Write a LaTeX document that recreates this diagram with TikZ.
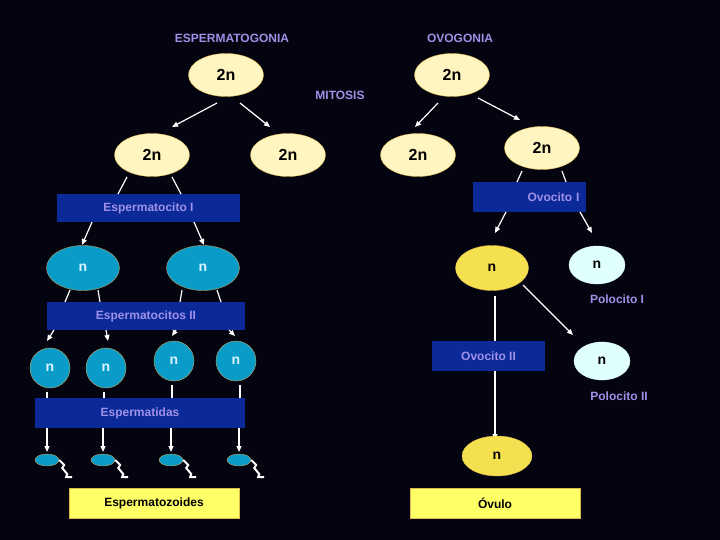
\documentclass[tikz,border=0pt]{standalone}
\usepackage{fontspec}
\setmainfont{Liberation Sans}
\usetikzlibrary{shapes.geometric,arrows.meta}
\definecolor{bg}{HTML}{03040F}
\definecolor{lav}{HTML}{A090E8}
\definecolor{cream}{HTML}{FFF5C0}
\definecolor{gold}{HTML}{E0B850}
\definecolor{cyanf}{HTML}{0A9CC8}
\definecolor{cyant}{HTML}{D8F4FF}
\definecolor{boxb}{HTML}{0B2A98}
\definecolor{yel}{HTML}{FFFF66}
\definecolor{yelo}{HTML}{F5E050}
\definecolor{pale}{HTML}{E0FFFF}
\begin{document}
\begin{tikzpicture}[x=1pt,y=-1pt,font=\bfseries,
 lab/.style={text=lav,font=\fontsize{12}{14}\selectfont\bfseries},
 dip/.style={ellipse,draw=gold,fill=cream,minimum width=75,minimum height=43,inner sep=0,font=\fontsize{16}{18}\selectfont\bfseries,text=black},
 hap/.style={ellipse,draw=gold!70!gray,fill=cyanf,minimum width=73,minimum height=45,inner sep=0,font=\fontsize{14}{16}\selectfont\bfseries,text=cyant},
 hc/.style={hap,minimum width=40,minimum height=40},
 head/.style={ellipse,draw=gold!70!gray,fill=cyanf,minimum width=24,minimum height=12,inner sep=0},
 oy/.style={hap,fill=yelo,draw=gold,text=black},
 op/.style={hap,fill=pale,draw=pale,text=black,minimum width=56,minimum height=38},
 bx/.style={rectangle,fill=boxb,inner sep=0,text=lav,font=\fontsize{12}{14}\selectfont\bfseries},
 yb/.style={rectangle,fill=yel,draw=gold,inner sep=0,text=black,font=\fontsize{12}{14}\selectfont\bfseries},
 ar/.style={white,line width=1.2,-{Triangle[width=5,length=6]}},
 ln/.style={white,line width=1.2}]
\fill[bg] (0,0) rectangle (720,540);
\node[lab] (t1) at (232,38) {ESPERMATOGONIA};
\node[lab] (t2) at (460,38) {OVOGONIA};
\node[lab] (mi) at (340,95) {MITOSIS};
\node[dip] (e0) at (226,75) {2n};
\node[dip] (o0) at (452,75) {2n};
\node[dip] (e1) at (152,155) {2n};
\node[dip] (e2) at (288,155) {2n};
\node[dip] (o1) at (418,155) {2n};
\node[dip] (o2) at (542,148) {2n};
\coordinate (a1) at (217,103); \coordinate (a2) at (240,103);
\coordinate (a3) at (438,103); \coordinate (a4) at (478,98);
\draw[ar] (a1) -- (172,127); \draw[ar] (a2) -- (270,127);
\draw[ar] (a3) -- (415,127); \draw[ar] (a4) -- (520,120);
% sperm line
\node[bx,minimum width=183,minimum height=28] (b1) at (148.5,208) {Espermatocito I};
\draw[ln] (127,177) -- (118,194); \draw[ln] (172,177) -- (181,194);
\node[hap] (n1) at (83,268) {n};
\node[hap] (n2) at (203,268) {n};
\draw[ar] (92,222) -- (82,245); \draw[ar] (194,222) -- (204,245);
\node[bx,minimum width=198,minimum height=28] (b2) at (146,316) {Espermatocitos II};
\draw[ln] (70,290) -- (65,302); \draw[ln] (98,290) -- (100,302);
\draw[ln] (182,290) -- (180,302); \draw[ln] (217,290) -- (221,302);
\node[hc] (c1) at (50,368) {n};
\node[hc] (c2) at (106,368) {n};
\node[hc] (c3) at (174,361) {n};
\node[hc] (c4) at (236,361) {n};
\draw[ar] (54,330) -- (47,341); \draw[ar] (106,330) -- (108,341);
\draw[ar] (176,330) -- (172,336); \draw[ar] (229,330) -- (235,336);
\node[bx,minimum width=210,minimum height=30] (b3) at (140,413) {Espermatidas};
\foreach \x/\y in {47/388,104/388,172/381,240/381}{\draw[ln] (\x,\y+4) -- (\x,398);}
\foreach \x/\i in {47/1,103/2,171/3,239/4}{
  \node[head] (h\i) at (\x,460) {};
  \draw[ar] (\x,428) -- (\x,452);
  \draw[white,line width=2] (h\i.east) -- ++(5,5) -- ++(-2,3) -- ++(5,6) -- ++(-1,3) -- ++(6,0);
}
\node[yb,minimum width=170,minimum height=30] (b4) at (154,503) {Espermatozoides};
% ovo line
\node[bx,minimum width=113,minimum height=30,text width=100,align=right] (b5) at (529.5,197) {Ovocito I};
\draw[ln] (522,171) -- (517,182); \draw[ln] (562,171) -- (566,182);
\node[oy] (y1) at (492,268) {n};
\node[op] (p1) at (597,265) {n};
\draw[ar] (506,212) -- (495,233); \draw[ar] (580,212) -- (592,233);
\node[lab] (pl1) at (617,299) {Polocito I};
\node[bx,minimum width=113,minimum height=30] (b6) at (488.5,356) {Ovocito II};
\draw[ln] (495,296) -- (b6.north-|495,0);
\draw[ar] (b6.south-|495,0) -- (495,440);
\draw[ar] (523,285) -- (573,335);
\node[op] (p2) at (602,361) {n};
\node[lab] (pl2) at (619,396) {Polocito II};
\node[oy,minimum width=70,minimum height=40] (y2) at (497,456) {n};
\node[yb,minimum width=170,minimum height=30] (b7) at (495,503) {Óvulo};
\end{tikzpicture}
\end{document}
